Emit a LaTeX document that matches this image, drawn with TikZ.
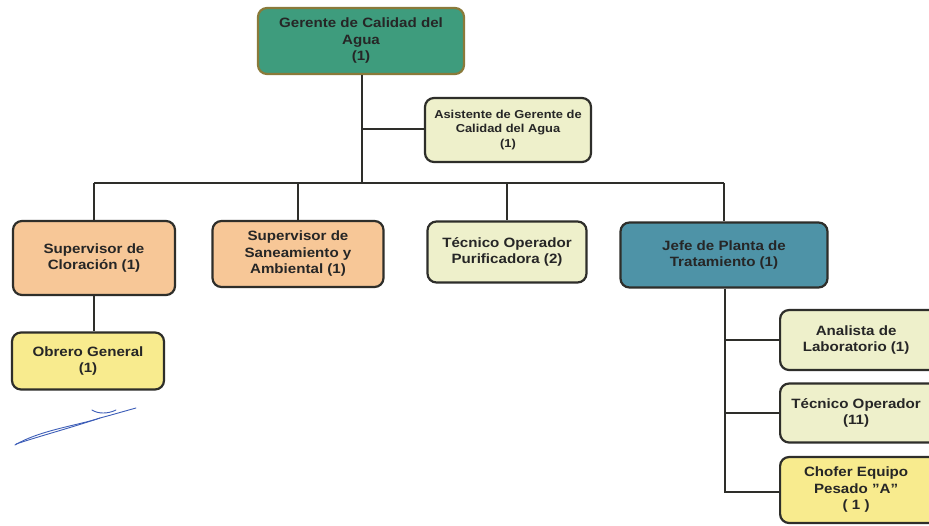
\documentclass[tikz,border=0pt]{standalone}
\usepackage{fontspec}
\setmainfont{Liberation Sans}[FakeStretch=1.12]
\definecolor{gerfill}{HTML}{3E9C7D}
\definecolor{gerdraw}{HTML}{8A7A3A}
\definecolor{peach}{HTML}{F7C797}
\definecolor{paleg}{HTML}{EEF0CB}
\definecolor{jefe}{HTML}{4E93A7}
\definecolor{yel}{HTML}{F8EB8E}
\definecolor{edge}{HTML}{2E2E2A}
\definecolor{txt}{HTML}{262626}
\definecolor{sig}{HTML}{3C5DB8}
\tikzset{
  box/.style={draw=edge, line width=2.2pt, rounded corners=9pt, align=center,
    font=\fontsize{13.5}{16.5}\selectfont\bfseries, text=txt, inner sep=0pt},
  conn/.style={draw=edge, line width=2pt}
}
\begin{document}
\begin{tikzpicture}[x=1pt,y=-1pt]
\useasboundingbox (0,0) rectangle (929,525);
\clip (0,0) rectangle (929,525);
\fill[white] (0,0) rectangle (929,525);
% boxes
\node[box, draw=gerdraw, fill=gerfill, minimum width=206pt, minimum height=66pt] (ger) at (361,41) {Gerente de Calidad del\\Agua\\(1)};
\node[box, fill=paleg, minimum width=166pt, minimum height=64pt, font=\fontsize{11.5}{14.5}\selectfont\bfseries] (asi) at (508,130) {Asistente de Gerente de\\Calidad del Agua\\(1)};
\node[box, fill=peach, minimum width=162pt, minimum height=74pt] (sc) at (94,258) {Supervisor de\\Cloración (1)};
\node[box, fill=peach, minimum width=171pt, minimum height=66pt] (ss) at (298,254) {Supervisor de\\Saneamiento y\\Ambiental (1)};
\node[box, fill=paleg, minimum width=159pt, minimum height=61pt] (tp) at (507,252) {Técnico Operador\\Purificadora (2)};
\node[box, fill=jefe, minimum width=207pt, minimum height=65pt] (jp) at (724,255) {Jefe de Planta de\\Tratamiento (1)};
\node[box, fill=yel, minimum width=152pt, minimum height=57pt] (ob) at (88,361) {Obrero General\\(1)};
\node[box, fill=paleg, minimum width=166pt, minimum height=60pt, anchor=west] (an) at (779,340) {\hspace*{-14pt}Analista de\\\hspace*{-14pt}Laboratorio (1)};
\node[box, fill=paleg, minimum width=166pt, minimum height=59pt, anchor=west] (to) at (779,413) {\hspace*{-14pt}Técnico Operador\\\hspace*{-14pt}(11)};
\node[box, fill=yel, minimum width=166pt, minimum height=66pt, anchor=west] (ch) at (779,490) {\hspace*{-14pt}Chofer Equipo\\\hspace*{-14pt}Pesado "A"\\\hspace*{-14pt}( 1 )};
% connectors
\coordinate (bus) at (362,183);
\coordinate (aj) at (362,129);
\draw[conn] (ger.south -| bus) -- (bus);
\draw[conn] (aj) -- (asi.west |- aj);
\draw[conn] (sc.north |- bus) -- (ss.north |- bus) -- (tp.north |- bus) -- (jp.north |- bus);
\draw[conn] (sc.north |- bus) -- (sc.north);
\draw[conn] (ss.north |- bus) -- (ss.north);
\draw[conn] (tp.north |- bus) -- (tp.north);
\draw[conn] (jp.north |- bus) -- (jp.north);
\draw[conn] (sc.south) -- (ob.north -| sc.south);
\coordinate (rv) at (725,492);
\draw[conn] (jp.south -| rv) -- (rv) -- (ch.west |- rv);
\draw[conn] (an.west -| rv) -- (an.west);
\draw[conn] (to.west -| rv) -- (to.west);
% signature
\draw[sig, line width=0.9pt, line cap=round] (15,445) .. controls (40,430) and (80,425) .. (100,418) .. controls (115,414) and (125,411) .. (136,408);
\draw[sig, line width=0.9pt, line cap=round] (16,444) .. controls (40,436) and (70,428) .. (100,418);
\draw[sig, line width=0.9pt, line cap=round] (92,410) .. controls (98,414) and (108,414) .. (116,410);
\end{tikzpicture}
\end{document}
